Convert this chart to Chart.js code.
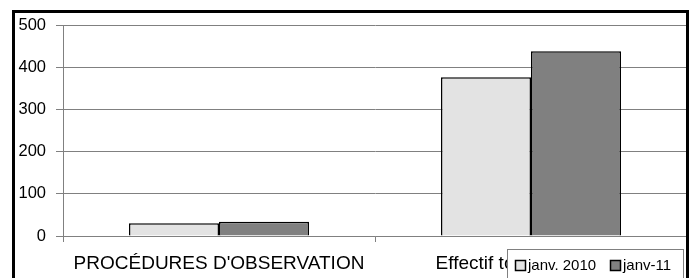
<!DOCTYPE html>
<html>
<head>
<meta charset="utf-8">
<script src="https://cdn.jsdelivr.net/npm/chart.js@4/dist/chart.umd.min.js"></script>
<style>
  html, body { margin: 0; padding: 0; background: #fff; overflow: hidden; }
  #wrap { position: relative; width: 691px; height: 278px; }
  #frame { position: absolute; left: 12px; top: 10px; width: 671px; height: 300px;
           border: 3px solid #000; pointer-events: none; box-sizing: content-box; }
</style>
</head>
<body>
<div id="wrap">
  <canvas id="myChart" width="691" height="278"></canvas>
  <div id="frame"></div>
</div>
<script>
// data
const categories = ["PROCÉDURES D'OBSERVATION", "Effectif total du service"];
const seriesNames = ["janv. 2010", "janv-11"];
const janv2010 = [30, 376];
const janv2011 = [34, 438];
const yTicks = [0, 100, 200, 300, 400, 500];

// legend box drawn over the second label, like the original
const boxLegend = {
    id: 'boxLegend',
    afterDraw(chart) {
        const c = chart.ctx;
        c.save();
        c.fillStyle = '#fff';
        c.fillRect(507, 249, 176, 40);
        c.strokeStyle = '#808080';
        c.lineWidth = 1;
        c.strokeRect(507.5, 249.5, 176, 40);
        const xs = [515, 610];
        c.font = '15px "Liberation Sans", Arial, sans-serif';
        c.textBaseline = 'alphabetic';
        chart.data.datasets.forEach((ds, i) => {
            c.fillStyle = ds.backgroundColor;
            c.fillRect(xs[i], 260, 10, 10);
            c.strokeStyle = '#000';
            c.lineWidth = 1.5;
            c.strokeRect(xs[i] + 0.5, 260.5, 10, 10);
            c.fillStyle = '#000';
            c.fillText(ds.label, xs[i] + 13, 270);
        });
        c.restore();
    }
};

const ctx = document.getElementById('myChart');

new Chart(ctx, {
    type: 'bar',
    data: {
        labels: categories,
        datasets: [{
            label: seriesNames[0],
            data: janv2010,
            backgroundColor: '#e3e3e3',
            borderColor: '#000',
            borderWidth: 1.5,
            borderSkipped: 'bottom'
        }, {
            label: seriesNames[1],
            data: janv2011,
            backgroundColor: '#808080',
            borderColor: '#000',
            borderWidth: 1.5,
            borderSkipped: 'bottom'
        }]
    },
    options: {
        responsive: false,
        animation: false,
        categoryPercentage: 0.577,
        barPercentage: 1,
        layout: { padding: { left: 14, top: 25, right: 4, bottom: 0 } },
        plugins: {
            legend: { display: false },
            tooltip: { enabled: false }
        },
        scales: {
            x: {
                grid: { display: true, drawOnChartArea: false, offset: true, tickLength: 6, color: '#808080' },
                border: { color: '#808080' },
                ticks: {
                    color: '#000',
                    autoSkip: false,
                    maxRotation: 0,
                    padding: 10,
                    font: { family: '"Liberation Sans", Arial, sans-serif', size: 19 }
                },
                afterFit(scale) { scale.height = 42; }
            },
            y: {
                min: 0,
                max: 500,
                afterBuildTicks(scale) { scale.ticks = yTicks.map(v => ({ value: v })); },
                grid: { color: '#808080', tickLength: 7, tickColor: '#808080' },
                border: { color: '#808080' },
                ticks: {
                    color: '#000',
                    padding: 10,
                    font: { family: '"Liberation Sans", Arial, sans-serif', size: 16.5 }
                },
                afterFit(scale) { scale.width = 49; }
            }
        }
    },
    plugins: [boxLegend]
});
</script>
</body>
</html>
